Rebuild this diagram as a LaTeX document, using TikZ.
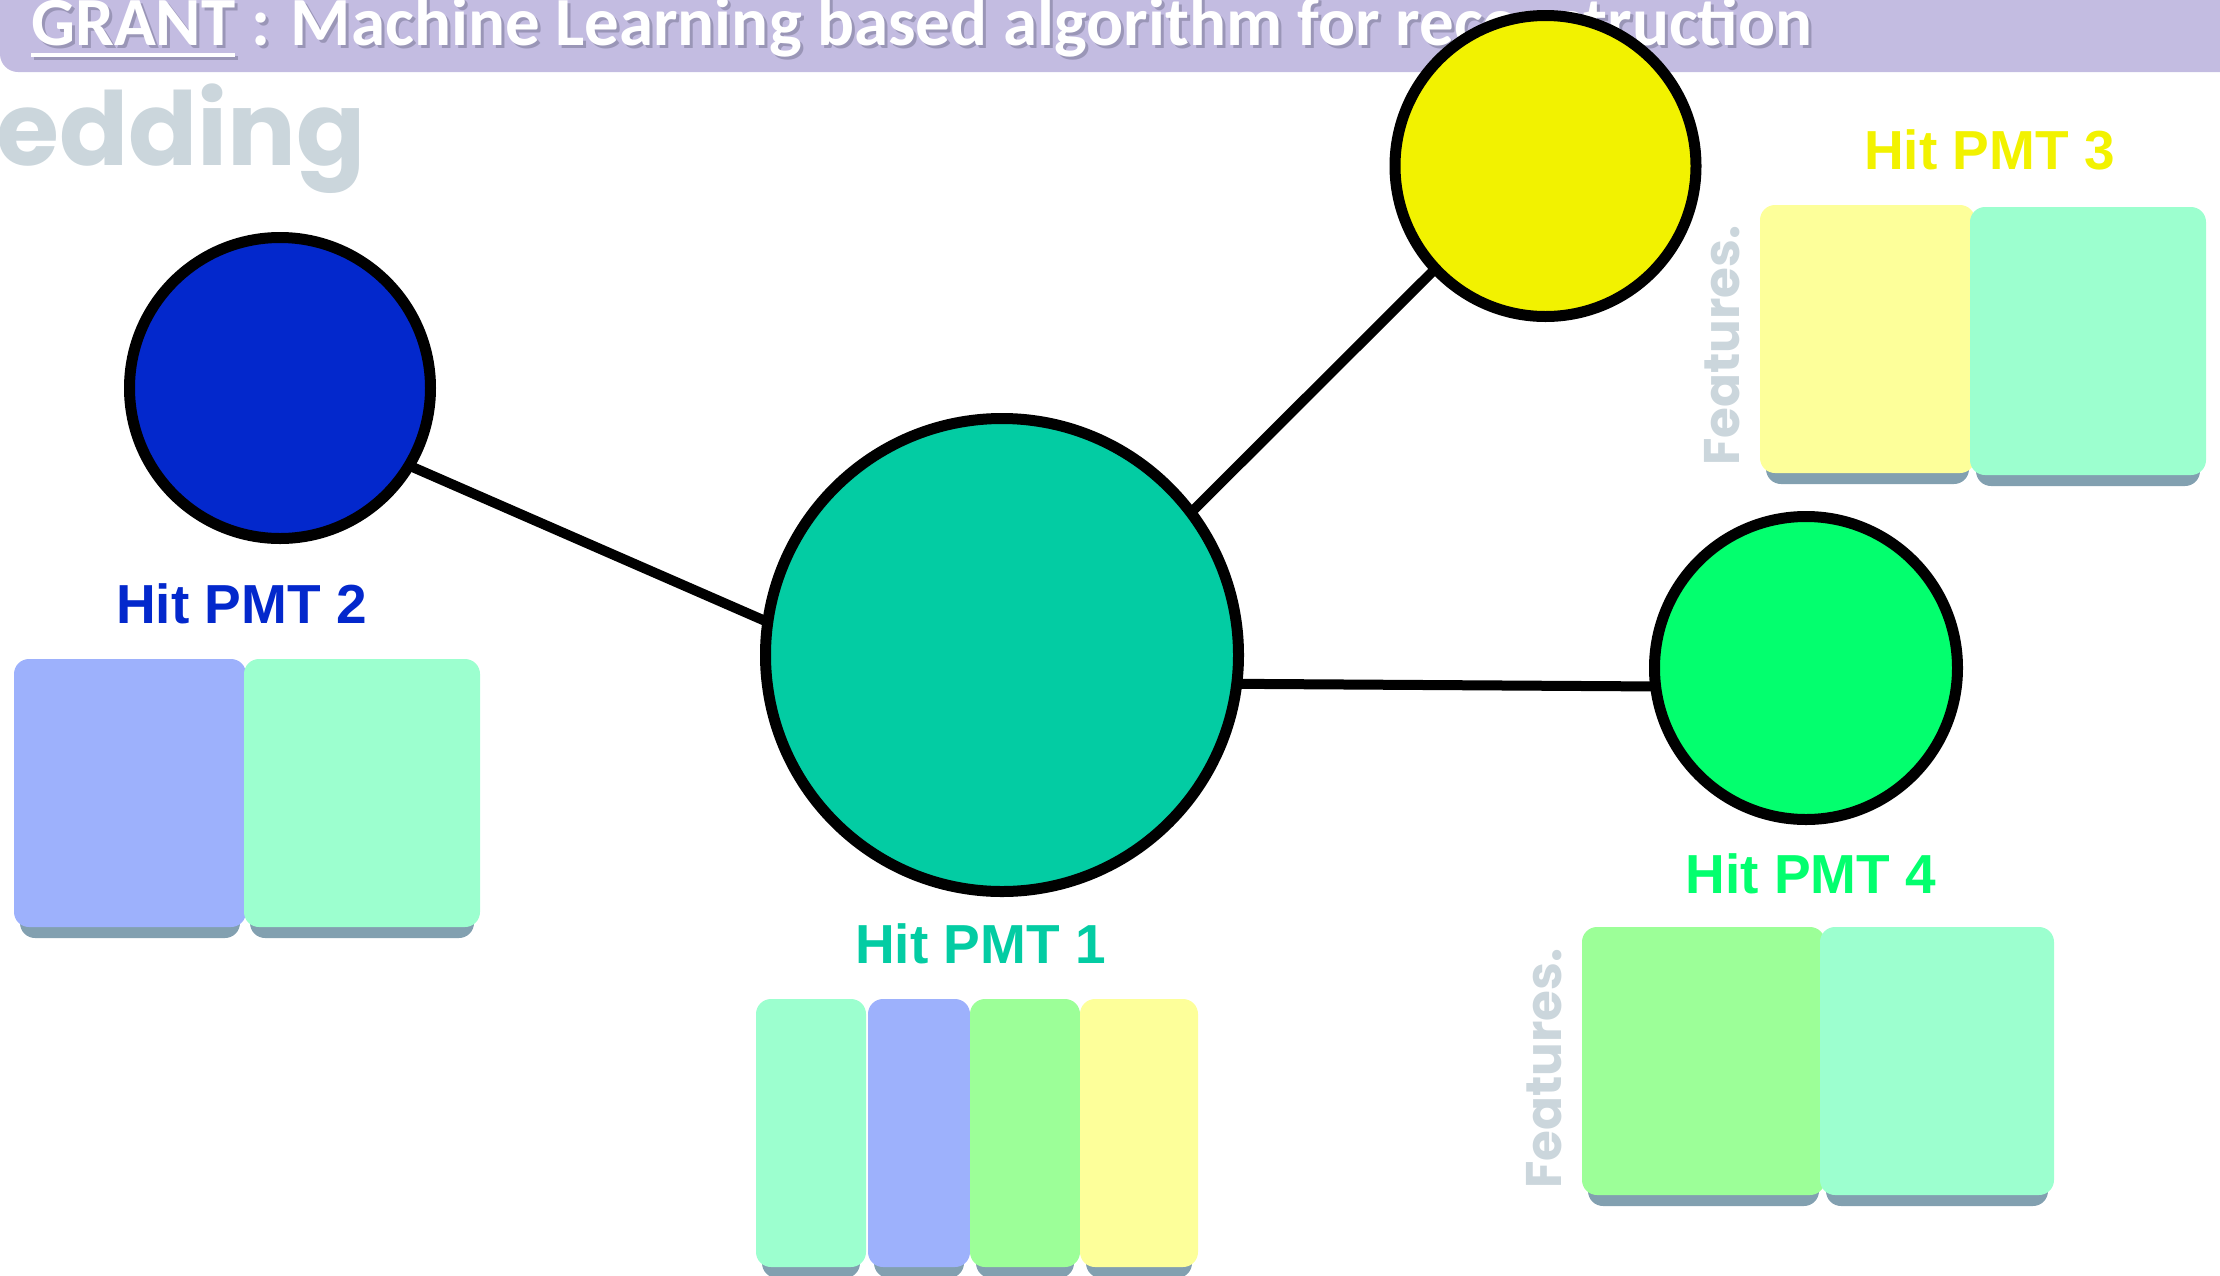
\documentclass[tikz,border=0pt]{standalone}
\usepackage{fontspec}
\setmainfont{Liberation Sans}
\newfontfamily\titlefont{Carlito}
\newfontfamily\labelfont{Liberation Sans}
\newfontfamily\geofont{Poppins}
\usetikzlibrary{backgrounds}

\definecolor{headerlav}{HTML}{C3BCE1}
\definecolor{titleshadow}{HTML}{8A86A6}
\definecolor{fadegray}{HTML}{CBD6DC}
\definecolor{pmtblue}{HTML}{0328CC}
\definecolor{pmtteal}{HTML}{03CCA3}
\definecolor{pmtyellow}{HTML}{F2F200}
\definecolor{pmtgreen}{HTML}{03FF6E}
\definecolor{featblue}{HTML}{9DB1FC}
\definecolor{featmint}{HTML}{9CFFCF}
\definecolor{featgreen}{HTML}{9CFF98}
\definecolor{featyellow}{HTML}{FDFF9A}
\definecolor{featshadow}{HTML}{82A0B0}

% underline drawn as a rule a little below the baseline
\newcommand\titleul[1]{\setbox0=\hbox{#1}\rlap{\rule[-12pt]{\wd0}{4pt}}\box0\relax}

% one feature card: shadow strip, then the rounded card
\newcommand\featcard[5]{%
  \fill[featshadow, rounded corners=15pt] (#1+6,#2+20) rectangle (#3-6,#4+11);
  \fill[#5, rounded corners=15pt] (#1,#2) rectangle (#3,#4);}

\tikzset{
  pmt/.style={circle, draw=black, line width=11pt, inner sep=0pt, outer sep=0pt},
  link/.style={draw=black, line width=10pt, shorten <=-6pt, shorten >=-6pt},
  hitlabel/.style={anchor=base, inner sep=0pt, font=\labelfont\bfseries\fontsize{55}{60}\selectfont},
  featlabel/.style={rotate=90, anchor=base, inner sep=0pt, text=fadegray,
    font=\geofont\bfseries\fontsize{50}{56}\selectfont},
  titletext/.style={anchor=base west, inner sep=0pt,
    font=\titlefont\bfseries\fontsize{69}{76}\selectfont},
}

\begin{document}
\begin{tikzpicture}[x=1pt, y=-1pt]
\clip (0,0) rectangle (2220,1275);

% header bar with the title
\fill[headerlav, rounded corners=18pt] (0,-40) rectangle (2260,72);
\node[titletext, text=titleshadow, opacity=0.7] (titleshade) at (34,48)
  {\titleul{GRANT} : Machine Learning based algorithm for reconstruction};
\node[titletext, text=white] (title) at (31,45)
  {\titleul{GRANT} : Machine Learning based algorithm for reconstruction};

% faded heading fragment
\node[anchor=base west, inner sep=0pt, text=fadegray,
  font=\geofont\bfseries\fontsize{102}{110}\selectfont] (heading) at (-4,165) {edding};

% feature cards
\featcard{14}{659}{246}{927}{featblue}
\featcard{244}{659}{480}{927}{featmint}

\featcard{756}{999}{866}{1267}{featmint}
\featcard{868}{999}{970}{1267}{featblue}
\featcard{970}{999}{1080}{1267}{featgreen}
\featcard{1080}{999}{1198}{1267}{featyellow}

\featcard{1760}{205}{1975}{473}{featyellow}
\featcard{1970}{207}{2206}{475}{featmint}

\featcard{1582}{927}{1825}{1195}{featgreen}
\featcard{1820}{927}{2054}{1195}{featmint}

% labels
\node[hitlabel, text=pmtblue] (lbl2) at (241.5,623) {Hit PMT 2};
\node[hitlabel, text=pmtteal] (lbl1) at (980.5,963) {Hit PMT 1};
\node[hitlabel, text=pmtgreen] (lbl4) at (1811,893) {Hit PMT 4};
\node[hitlabel, text=pmtyellow] (lbl3) at (1989.5,169) {Hit PMT 3};

\node[featlabel] (feat3) at (1739,345.5) {Features.};
\node[featlabel] (feat4) at (1561,1068.5) {Features.};

% hit PMT nodes
\node[pmt, fill=pmtblue, minimum size=301pt] (pmt2) at (280,388) {};
\node[pmt, fill=pmtteal, minimum size=473pt] (pmt1) at (1002,655) {};
\node[pmt, fill=pmtyellow, minimum size=301pt] (pmt3) at (1545.5,166) {};
\node[pmt, fill=pmtgreen, minimum size=303pt] (pmt4) at (1806,668) {};

% connections, kept behind the circles
\begin{scope}[on background layer]
  \path[link] (pmt2.-31.7) -- (pmt1.172.3);
  \path[link] (pmt1.37) -- (pmt3.223.6);
  \path[link] (pmt1.-7.6) -- (pmt4.187);
\end{scope}
\end{tikzpicture}
\end{document}
